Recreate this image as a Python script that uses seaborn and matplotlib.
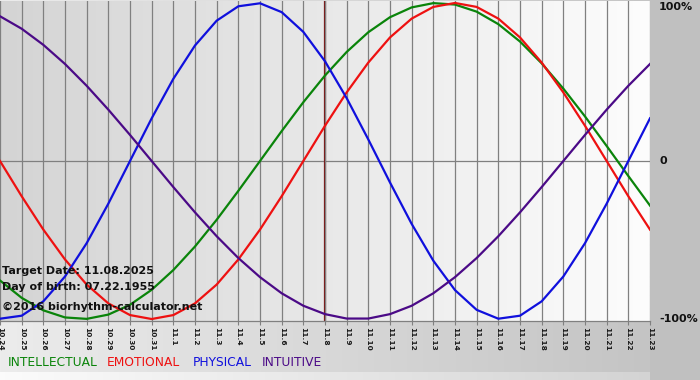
import numpy as np
import pandas as pd
import matplotlib
matplotlib.use("Agg")
import matplotlib.pyplot as plt
import seaborn as sns

# ---- data ----
dates = ["10.24", "10.25", "10.26", "10.27", "10.28", "10.29", "10.30", "10.31",
         "11.1", "11.2", "11.3", "11.4", "11.5", "11.6", "11.7", "11.8", "11.9",
         "11.10", "11.11", "11.12", "11.13", "11.14", "11.15", "11.16", "11.17",
         "11.18", "11.19", "11.20", "11.21", "11.22", "11.23"]
target_date = "11.8"

intellectual = [-0.756, -0.866, -0.945, -0.990, -0.999, -0.972, -0.910, -0.815,
                -0.690, -0.541, -0.372, -0.189, 0.0, 0.189, 0.372, 0.541, 0.690,
                0.815, 0.910, 0.972, 0.999, 0.990, 0.945, 0.866, 0.756, 0.618,
                0.458, 0.282, 0.095, -0.095, -0.282]
emotional = [0.0, -0.223, -0.434, -0.623, -0.782, -0.901, -0.975, -1.0, -0.975,
             -0.901, -0.782, -0.623, -0.434, -0.223, 0.0, 0.223, 0.434, 0.623,
             0.782, 0.901, 0.975, 1.0, 0.975, 0.901, 0.782, 0.623, 0.434, 0.223,
             0.0, -0.223, -0.434]
physical = [-0.998, -0.979, -0.888, -0.731, -0.520, -0.270, 0.0, 0.270, 0.520,
            0.731, 0.888, 0.979, 0.998, 0.942, 0.817, 0.631, 0.398, 0.136,
            -0.136, -0.398, -0.631, -0.817, -0.942, -0.998, -0.979, -0.888,
            -0.731, -0.520, -0.270, 0.0, 0.270]
intuitive = [0.916, 0.837, 0.735, 0.614, 0.476, 0.325, 0.165, 0.0, -0.165,
             -0.325, -0.476, -0.614, -0.735, -0.837, -0.916, -0.969, -0.997,
             -0.997, -0.969, -0.916, -0.837, -0.735, -0.614, -0.476, -0.325,
             -0.165, 0.0, 0.165, 0.325, 0.476, 0.614]

names = ["INTELLECTUAL", "EMOTIONAL", "PHYSICAL", "INTUITIVE"]
colors = ["#0a840a", "#ee1111", "#1010dd", "#4b0a87"]
right_labels = ["100%", "0", "-100%"]
info_lines = ["Target Date: 11.08.2025", "Day of birth: 07.22.1955",
              "\u00a92016 biorhythm-calculator.net"]

series = [intellectual, emotional, physical, intuitive]
days = np.arange(len(dates))
df = pd.concat([pd.DataFrame({"day": days, "value": v, "rhythm": n})
                for n, v in zip(names, series)], ignore_index=True)

W, H = 700, 380
fig = plt.figure(figsize=(W / 100, H / 100), dpi=100)

# figure background gradient
bg = fig.add_axes([0, 0, 1, 1])
bg.axis("off")
xs = np.arange(W)
g = np.where(xs < 650, 0xec - (0xec - 0xc4) * xs / 650.0, 0xc0) / 255.0
img = np.tile(g[None, :, None], (H, 1, 3))
img[372:, :650, :] = np.clip(img[372:, :650, :] + 0.06, 0, 1)
bg.imshow(img, extent=[0, W, H, 0], aspect="auto")
bg.set_xlim(0, W)
bg.set_ylim(H, 0)

# main axes
ax = fig.add_axes([0, 59 / H, 650 / W, 320 / H])
ax.set_xlim(0, len(dates) - 1)
ax.set_ylim(-1.0125, 1.0125)
pg = np.linspace(0xd4, 0xfd, 300) / 255.0
pimg = np.tile(pg[None, :, None], (10, 1, 3))
ax.imshow(pimg, extent=[0, len(dates) - 1, -1.0125, 1.0125], aspect="auto", zorder=0)

ax.set_xticks(days)
ax.set_xticklabels(dates, rotation=270, fontsize=5.3, fontweight="bold",
                   color="#1a1a1a")
ax.tick_params(axis="x", length=3, color="#808080", pad=1.5, width=0.8)
ax.set_yticks([])
ax.grid(axis="x", color="#808080", lw=0.9, zorder=1)
ax.set_axisbelow(False)
for s in ["top", "left", "right"]:
    ax.spines[s].set_visible(False)
ax.spines["bottom"].set_color("#808080")
ax.spines["bottom"].set_linewidth(0.9)

ax.axhline(0, color="#808080", lw=0.9, zorder=1)
ax.axvline(dates.index(target_date), color="#7a1010", lw=1.6, zorder=2)

sns.lineplot(data=df, x="day", y="value", hue="rhythm", hue_order=names,
             palette=dict(zip(names, colors)), lw=1.6, legend=False, ax=ax,
             zorder=3)
ax.set_xlabel("")
ax.set_ylabel("")

# right labels
for lab, yv, va in zip(right_labels, [1, 0, -1], ["top", "center", "center"]):
    ax.annotate(lab, xy=(1, yv), xycoords=("axes fraction", "data"),
                xytext=(9, 0 if va == "center" else 1), textcoords="offset pixels",
                va=va, ha="left", fontsize=8, fontweight="bold", color="#111111",
                annotation_clip=False)

# info text
for txt, ypx in zip(info_lines, [271, 287, 307]):
    fig.text(2 / W, 1 - ypx / H, txt, va="center", ha="left", fontsize=8,
             fontweight="bold", color="#111111")

# legend texts
for n, c, xpx in zip(names, colors, [8, 107, 193, 262]):
    fig.text(xpx / W, 1 - 362 / H, n, va="center", ha="left", fontsize=8.8, color=c)

fig.savefig("out.png", dpi=100)
